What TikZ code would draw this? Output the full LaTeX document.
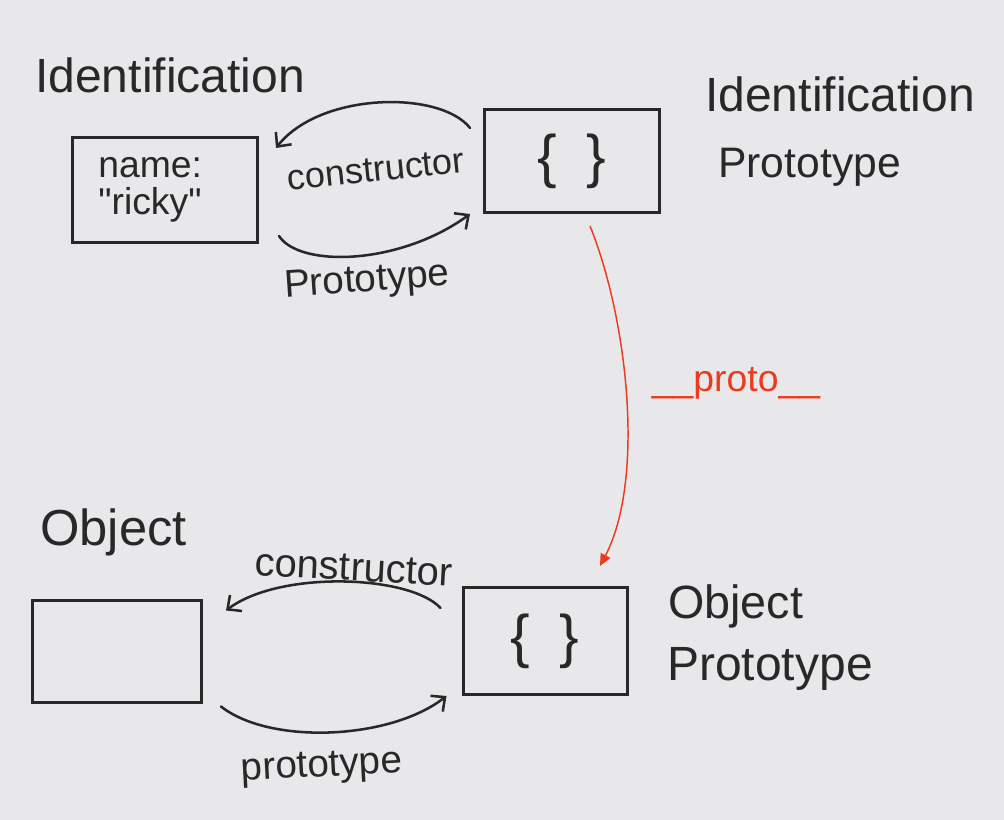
\documentclass[tikz,border=0pt]{standalone}
\usepackage{fontspec}
\setmainfont{Liberation Sans}
\usetikzlibrary{arrows.meta}
\definecolor{paper}{RGB}{232,232,234}
\definecolor{ink}{RGB}{40,40,40}
\definecolor{protored}{RGB}{236,58,30}
\begin{document}
\begin{tikzpicture}[x=0.75pt,y=-0.75pt,
  box/.style={draw=ink, line width=2.25pt, inner sep=0pt, text=ink},
  link/.style={draw=ink, line width=1.9pt, line cap=round, -{Straight Barb[length=8pt,width=15pt]}},
  redlink/.style={draw=protored, line width=1.1pt, -{Triangle[length=9pt,width=8pt]}},
  title/.style={text=ink, anchor=base west, inner sep=0pt},
  lbl/.style={text=ink, inner sep=0pt},
  braces/.style={font=\fontsize{44}{48}\selectfont}
]
\fill[paper] (0,0) rectangle (1004,820);
\useasboundingbox (0,0) rectangle (1004,820);

% titles
\node[title, font=\fontsize{36}{40}\selectfont] (tid) at (35,93) {Identification};
\node[title, font=\fontsize{36}{40}\selectfont] (tidp1) at (705,112) {Identification};
\node[title, font=\fontsize{32}{36}\selectfont] (tidp2) at (718,178) {Prototype};
\node[title, font=\fontsize{38}{42}\selectfont] (tobj) at (40,545) {Object};
\node[title, font=\fontsize{35}{40}\selectfont] (tobp1) at (668,618) {Object};
\node[title, font=\fontsize{36}{40}\selectfont] (tobp2) at (667,680) {Prototype};

% boxes
\node[box, minimum width=138.75pt, minimum height=78.75pt, align=left,
      font=\fontsize{28}{28}\selectfont\addfontfeatures{Ligatures=TeXOff}, text width=100pt] (inst) at (165,190)
      {name:\\"ricky"};
\node[box, minimum width=131.25pt, minimum height=77.25pt, braces] (idp) at (572,161)
      {\{\hspace{0.5em}\}};
\node[box, minimum width=126.75pt, minimum height=76.5pt] (obj) at (117,651) {};
\node[box, minimum width=123pt, minimum height=80.25pt, braces] (objp) at (545,641)
      {\{\hspace{0.5em}\}};

% top connectors
\draw[link] ([shift={(-13,20)}]idp.north west) .. controls (440,90) and (320,92) ..
      ([shift={(17,12)}]inst.north east);
\draw[link] ([shift={(20,-8)}]inst.south east) .. controls (300,268) and (400,265) ..
      ([shift={(-13,0)}]idp.south west);
\node[lbl, font=\fontsize{27}{30}\selectfont, rotate=6] (c1) at (376,170) {constructor};
\node[lbl, font=\fontsize{29}{32}\selectfont, rotate=4] (p1) at (367,282) {Prototype};

% bottom connectors
\draw[link] ([shift={(-21,22)}]objp.north west) .. controls (410,575) and (280,570) ..
      ([shift={(23,12)}]obj.north east);
\draw[link] ([shift={(18,3)}]obj.south east) .. controls (270,745) and (390,740) ..
      ([shift={(-15,0)}]objp.south west);
\node[lbl, font=\fontsize{30}{33}\selectfont, rotate=-3] (c2) at (354,568) {constructor};
\node[lbl, font=\fontsize{29}{32}\selectfont, rotate=3] (p2) at (322,768) {prototype};

% __proto__ link
\draw[redlink] ([shift={(18,12)}]idp.south) .. controls (628,320) and (645,480) ..
      ([shift={(55,-20)}]objp.north);
\node[lbl, text=protored, font=\fontsize{28}{32}\selectfont] (pr) at (736,383) {\_\_proto\_\_};
\end{tikzpicture}
\end{document}
